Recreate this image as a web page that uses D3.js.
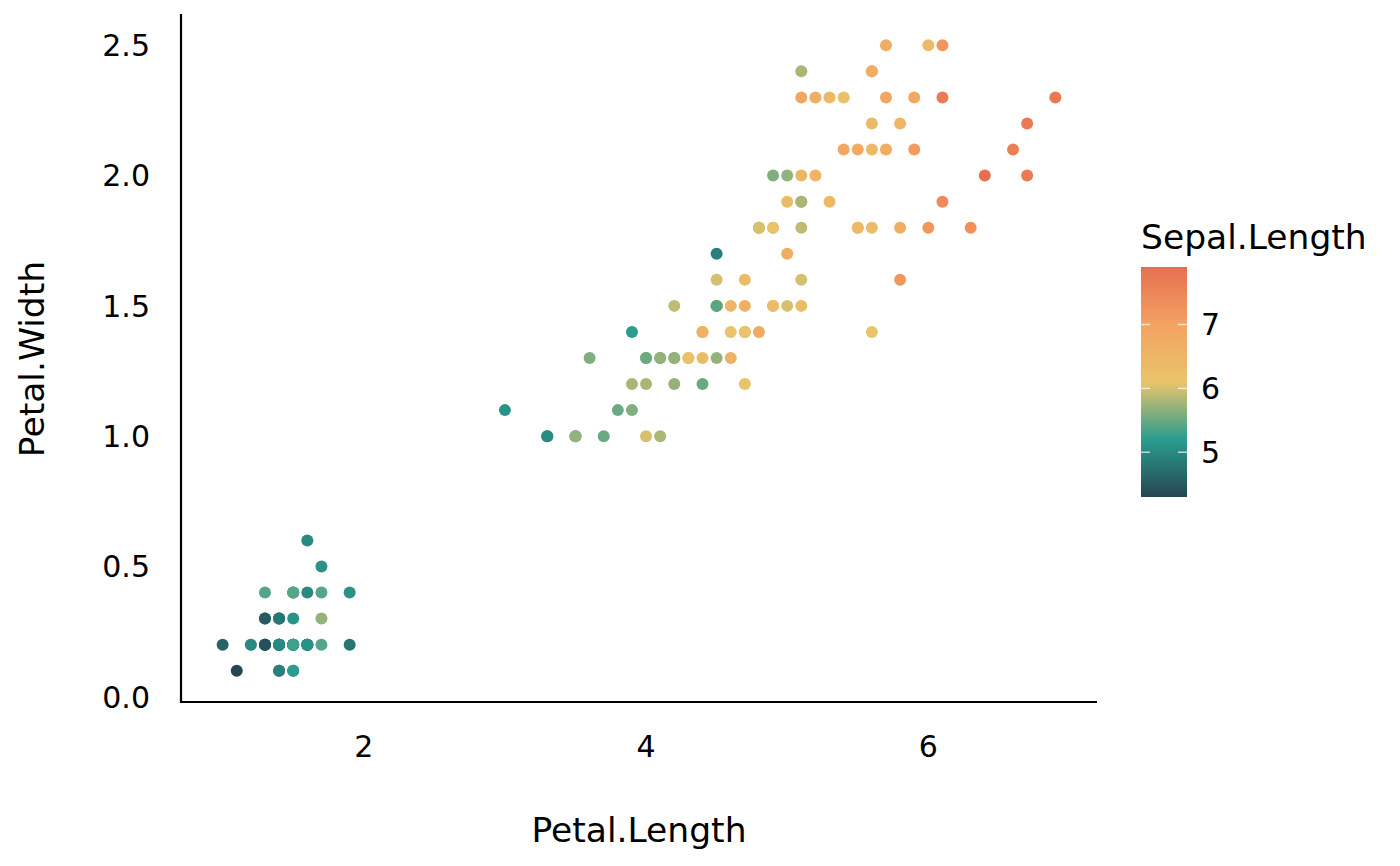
<!DOCTYPE html>
<html>
<head>
<meta charset="utf-8">
<script src="https://cdn.jsdelivr.net/npm/d3@7"></script>
<style>
  body { margin: 0; background: #fff; }
  svg text { font-family: "DejaVu Sans", sans-serif; fill: #000; }
</style>
</head>
<body>
<svg id="chart" width="1400" height="866"></svg>
<script>
// iris: Petal.Length, Petal.Width, coloured by Sepal.Length
const petalLength = [
  1.4,1.4,1.3,1.5,1.4,1.7,1.4,1.5,1.4,1.5,1.5,1.6,1.4,1.1,1.2,1.5,1.3,1.4,1.7,1.5,
  1.7,1.5,1.0,1.7,1.9,1.6,1.6,1.5,1.4,1.6,1.6,1.5,1.5,1.4,1.5,1.2,1.3,1.4,1.3,1.5,
  1.3,1.3,1.3,1.6,1.9,1.4,1.6,1.4,1.5,1.4,
  4.7,4.5,4.9,4.0,4.6,4.5,4.7,3.3,4.6,3.9,3.5,4.2,4.0,4.7,3.6,4.4,4.5,4.1,4.5,3.9,
  4.8,4.0,4.9,4.7,4.3,4.4,4.8,5.0,4.5,3.5,3.8,3.7,3.9,5.1,4.5,4.5,4.7,4.4,4.1,4.0,
  4.4,4.6,4.0,3.3,4.2,4.2,4.2,4.3,3.0,4.1,
  6.0,5.1,5.9,5.6,5.8,6.6,4.5,6.3,5.8,6.1,5.1,5.3,5.5,5.0,5.1,5.3,5.5,6.7,6.9,5.0,
  5.7,4.9,6.7,4.9,5.7,6.0,4.8,4.9,5.6,5.8,6.1,6.4,5.6,5.1,5.6,6.1,5.6,5.5,4.8,5.4,
  5.6,5.1,5.1,5.9,5.7,5.2,5.0,5.2,5.4,5.1
];
const petalWidth = [
  0.2,0.2,0.2,0.2,0.2,0.4,0.3,0.2,0.2,0.1,0.2,0.2,0.1,0.1,0.2,0.4,0.4,0.3,0.3,0.3,
  0.2,0.4,0.2,0.5,0.2,0.2,0.4,0.2,0.2,0.2,0.2,0.4,0.1,0.2,0.2,0.2,0.2,0.1,0.2,0.2,
  0.3,0.3,0.2,0.6,0.4,0.3,0.2,0.2,0.2,0.2,
  1.4,1.5,1.5,1.3,1.5,1.3,1.6,1.0,1.3,1.4,1.0,1.5,1.0,1.4,1.3,1.4,1.5,1.0,1.5,1.1,
  1.8,1.3,1.5,1.2,1.3,1.4,1.4,1.7,1.5,1.0,1.1,1.0,1.2,1.6,1.5,1.6,1.5,1.3,1.3,1.3,
  1.2,1.4,1.2,1.0,1.3,1.2,1.3,1.3,1.1,1.3,
  2.5,1.9,2.1,1.8,2.2,2.1,1.7,1.8,1.8,2.5,2.0,1.9,2.1,2.0,2.4,2.3,1.8,2.2,2.3,1.5,
  2.3,2.0,2.0,1.8,2.1,1.8,1.8,1.8,2.1,1.6,1.9,2.0,2.2,1.5,1.4,2.3,2.4,1.8,1.8,2.1,
  2.4,2.3,1.9,2.3,2.5,2.3,1.9,2.0,2.3,1.8
];
const sepalLength = [
  5.1,4.9,4.7,4.6,5.0,5.4,4.6,5.0,4.4,4.9,5.4,4.8,4.8,4.3,5.8,5.7,5.4,5.1,5.7,5.1,
  5.4,5.1,4.6,5.1,4.8,5.0,5.0,5.2,5.2,4.7,4.8,5.4,5.2,5.5,4.9,5.0,5.5,4.9,4.4,5.1,
  5.0,4.5,4.4,5.0,5.1,4.8,5.1,4.6,5.3,5.0,
  7.0,6.4,6.9,5.5,6.5,5.7,6.3,4.9,6.6,5.2,5.0,5.9,6.0,6.1,5.6,6.7,5.6,5.8,6.2,5.6,
  5.9,6.1,6.3,6.1,6.4,6.6,6.8,6.7,6.0,5.7,5.5,5.5,5.8,6.0,5.4,6.0,6.7,6.3,5.6,5.5,
  5.5,6.1,5.8,5.0,5.6,5.7,5.7,6.2,5.1,5.7,
  6.3,5.8,7.1,6.3,6.5,7.6,4.9,7.3,6.7,7.2,6.5,6.4,6.8,5.7,5.8,6.4,6.5,7.7,7.7,6.0,
  6.9,5.6,7.7,6.3,6.7,7.2,6.2,6.1,6.4,7.2,7.4,7.9,6.4,6.3,6.1,7.7,6.3,6.4,6.0,6.9,
  6.7,6.9,5.8,6.8,6.7,6.7,6.3,6.5,6.2,5.9
];
const xTicks = [2, 4, 6];
const yTicks = [0.0, 0.5, 1.0, 1.5, 2.0, 2.5];
const legendTicks = [5, 6, 7];
const paletteColors = ["#264653", "#2a9d8f", "#e9c46a", "#f4a261", "#e76f51"];

const data = petalLength.map((d, i) => ({ pl: d, pw: petalWidth[i], sl: sepalLength[i] }));

const svg = d3.select("#chart");
const panel = { left: 181, right: 1097, top: 14, bottom: 702 };

// ggplot-style 5% expansion of the data range
const xExt = d3.extent(petalLength), yExt = d3.extent(petalWidth), cExt = d3.extent(sepalLength);
const xPad = (xExt[1] - xExt[0]) * 0.05, yPad = (yExt[1] - yExt[0]) * 0.05;

const x = d3.scaleLinear().domain([xExt[0] - xPad, xExt[1] + xPad]).range([panel.left, panel.right]);
const y = d3.scaleLinear().domain([yExt[0] - yPad, yExt[1] + yPad]).range([panel.bottom, panel.top]);

const colorStops = paletteColors.map((c, i) => cExt[0] + (cExt[1] - cExt[0]) * i / (paletteColors.length - 1));
const color = d3.scaleLinear().domain(colorStops).range(paletteColors).interpolate(d3.interpolateRgb);

// Points
svg.append("g")
  .selectAll("circle")
  .data(data)
  .enter()
  .append("circle")
  .attr("cx", d => x(d.pl))
  .attr("cy", d => y(d.pw))
  .attr("r", 6)
  .attr("fill", d => color(d.sl));

// Axis lines (no ticks)
svg.append("path")
  .attr("d", `M${panel.left},${panel.top}V${panel.bottom}H${panel.right}`)
  .attr("fill", "none")
  .attr("stroke", "#000")
  .attr("stroke-width", 2.2);

// Tick labels
svg.append("g")
  .selectAll("text")
  .data(xTicks)
  .enter()
  .append("text")
  .attr("x", d => x(d))
  .attr("y", 757)
  .attr("text-anchor", "middle")
  .style("font-size", "30px")
  .text(d => d3.format("d")(d));

svg.append("g")
  .selectAll("text")
  .data(yTicks)
  .enter()
  .append("text")
  .attr("x", 150)
  .attr("y", d => y(d))
  .attr("dy", "0.36em")
  .attr("text-anchor", "end")
  .style("font-size", "30px")
  .text(d => d3.format(".1f")(d));

// Axis titles
svg.append("text")
  .attr("x", (panel.left + panel.right) / 2)
  .attr("y", 842)
  .attr("text-anchor", "middle")
  .style("font-size", "34.5px")
  .text("Petal.Length");

svg.append("text")
  .attr("transform", `translate(44,359) rotate(-90)`)
  .attr("text-anchor", "middle")
  .style("font-size", "34.5px")
  .text("Petal.Width");

// Colour bar legend
const bar = { x: 1141, w: 46, top: 267, bottom: 497 };
const cy = d3.scaleLinear().domain(cExt).range([bar.bottom, bar.top]);

const grad = svg.append("defs").append("linearGradient")
  .attr("id", "cbar")
  .attr("x1", 0).attr("y1", 1).attr("x2", 0).attr("y2", 0);
grad.selectAll("stop")
  .data(colorStops)
  .enter()
  .append("stop")
  .attr("offset", d => (d - cExt[0]) / (cExt[1] - cExt[0]))
  .attr("stop-color", d => color(d));

svg.append("rect")
  .attr("x", bar.x)
  .attr("y", bar.top)
  .attr("width", bar.w)
  .attr("height", bar.bottom - bar.top)
  .attr("fill", "url(#cbar)");

const lt = svg.append("g").selectAll("g")
  .data(legendTicks)
  .enter()
  .append("g");
lt.append("line")
  .attr("x1", bar.x).attr("x2", bar.x + 9)
  .attr("y1", d => cy(d)).attr("y2", d => cy(d))
  .attr("stroke", "#fff").attr("stroke-opacity", 0.7).attr("stroke-width", 1.5);
lt.append("line")
  .attr("x1", bar.x + bar.w - 9).attr("x2", bar.x + bar.w)
  .attr("y1", d => cy(d)).attr("y2", d => cy(d))
  .attr("stroke", "#fff").attr("stroke-opacity", 0.7).attr("stroke-width", 1.5);
lt.append("text")
  .attr("x", 1201)
  .attr("y", d => cy(d))
  .attr("dy", "0.36em")
  .style("font-size", "30px")
  .text(d => d);

svg.append("text")
  .attr("x", 1141)
  .attr("y", 249)
  .style("font-size", "34.5px")
  .text("Sepal.Length");
</script>
</body>
</html>
